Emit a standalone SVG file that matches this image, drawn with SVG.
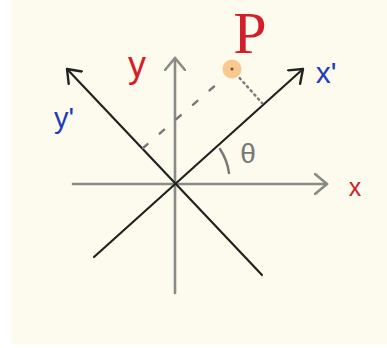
<svg xmlns="http://www.w3.org/2000/svg" width="387" height="348" viewBox="0 0 387 348">
<style>
.axis{stroke:#8a8a86;stroke-width:2.6;fill:none;stroke-linecap:round}
.rot{stroke:#222;stroke-width:2.2;fill:none;stroke-linecap:round}
.lbl{font-family:"Liberation Sans",Arial,sans-serif}
.red{fill:#d21f2a}
.blue{fill:#1f3db8}
</style>
<defs>
<marker id="ag" viewBox="-13 -11 16 22" markerWidth="16" markerHeight="22" markerUnits="userSpaceOnUse" orient="auto" refX="0" refY="0">
<path d="M-12,-10 L0,0 L-12,10" fill="none" stroke="#8a8a86" stroke-width="2.6" stroke-linecap="round" stroke-linejoin="round"/>
</marker>
<marker id="ad" viewBox="-13 -11 16 22" markerWidth="16" markerHeight="22" markerUnits="userSpaceOnUse" orient="auto" refX="0" refY="0">
<path d="M-12,-9 L0,0 L-12,9" fill="none" stroke="#222" stroke-width="2.4" stroke-linecap="round" stroke-linejoin="round"/>
</marker>
</defs>
<rect x="0" y="0" width="387" height="348" fill="#ffffff"/>
<rect x="11" y="0" width="376" height="344" fill="#fdfbee"/>
<g id="connectors">
<line id="x-axis" class="axis" x1="73" y1="184" x2="327" y2="184" marker-end="url(#ag)"/>
<line id="y-axis" class="axis" x1="175" y1="293" x2="175" y2="58" marker-end="url(#ag)"/>
<line id="x-prime-axis" class="rot" x1="94" y1="257" x2="303" y2="69" marker-end="url(#ad)"/>
<line id="y-prime-axis" class="rot" x1="262" y1="275" x2="67" y2="69" marker-end="url(#ad)"/>
<line id="proj-x" stroke="#777" stroke-width="2.4" stroke-dasharray="1.5 4" stroke-linecap="round" x1="236" y1="74" x2="262" y2="103"/>
<line id="proj-y" stroke="#777" stroke-width="2.4" stroke-dasharray="6 16" stroke-linecap="round" x1="143" y1="148" x2="225" y2="77"/>
<path id="theta-arc" d="M220,149 A58,58 0 0 1 229,173" fill="none" stroke="#777" stroke-width="2.4" stroke-linecap="round"/>
</g>
<g id="point-P">
<circle cx="232" cy="69" r="9.5" fill="#f8c88d"/>
<circle cx="232" cy="69" r="1.5" fill="#555"/>
<text x="250" y="53" font-size="60" text-anchor="middle" fill="#d21f2a" font-family="'Liberation Serif','Times New Roman',serif">P</text>
</g>
<g id="label-x"><text class="lbl red" x="355" y="196" font-size="25" text-anchor="middle">x</text></g>
<g id="label-y"><text class="lbl red" x="137" y="77" font-size="36" text-anchor="middle">y</text></g>
<g id="label-xp"><text class="lbl blue" x="326" y="83" font-size="30" text-anchor="middle">x'</text></g>
<g id="label-yp"><text class="lbl blue" x="64" y="128" font-size="29" text-anchor="middle">y'</text></g>
<g id="label-theta"><text x="248" y="163" font-size="28" text-anchor="middle" fill="#777" font-family="'Liberation Sans',Arial,sans-serif">θ</text></g>
</svg>
